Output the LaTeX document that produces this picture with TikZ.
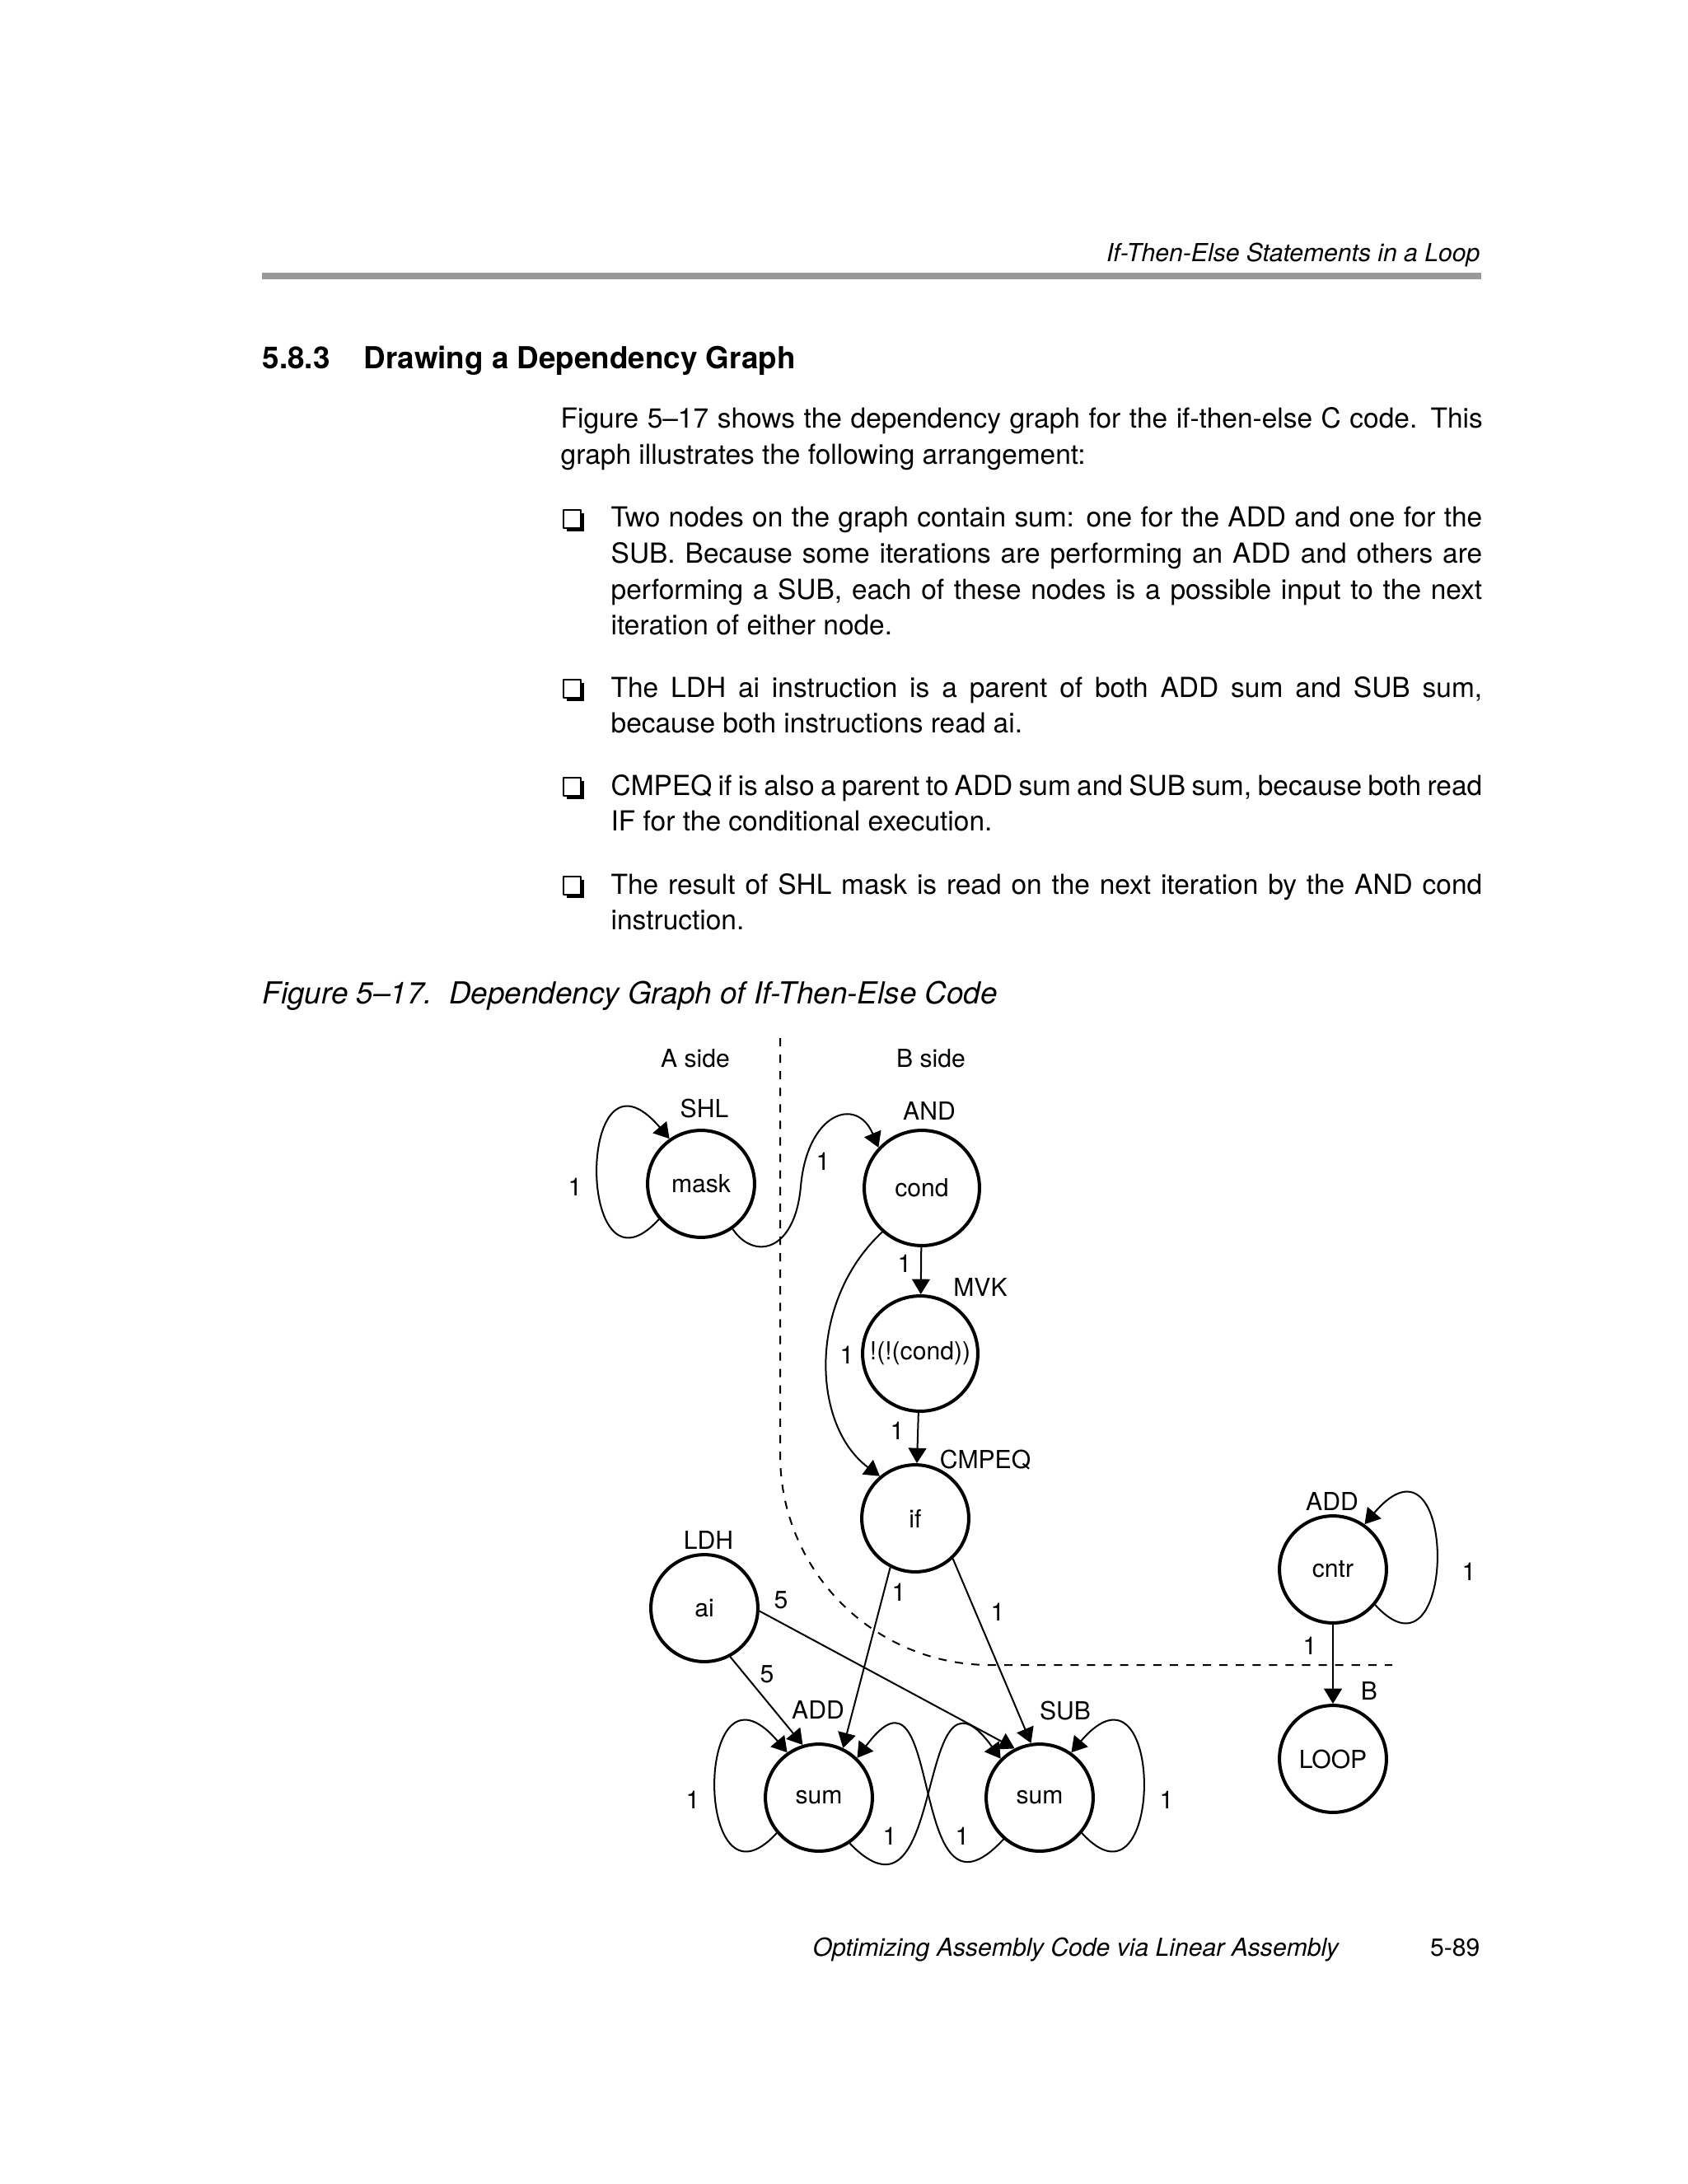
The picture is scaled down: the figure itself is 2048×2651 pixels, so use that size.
\documentclass[tikz,border=0pt]{standalone}
\usepackage{fontspec}
\setmainfont{TeX Gyre Heros}
\usetikzlibrary{arrows.meta}
\begin{document}
\begin{tikzpicture}[x=0.2988pt,y=-0.2988pt,line join=round,>={Triangle[length=5.5pt,width=6.5pt]}]
\tikzset{op/.style={circle,draw,line width=1.2pt,minimum size=38.8pt,inner sep=0pt,font=\fontsize{9}{10}\selectfont},
  bigop/.style={op,minimum size=41.8pt},
  tag/.style={inner sep=0pt,font=\fontsize{9}{10}\selectfont},
  dep/.style={->,line width=0.6pt},
  divider/.style={line width=0.6pt,dash pattern=on 3pt off 3pt},
  para/.style={anchor=base west,inner sep=0pt,align=justify,font=\fontsize{10}{13}\selectfont}}
\useasboundingbox (0,0) rectangle (2048,2651);
% page head
\node[anchor=base east,inner sep=0pt,font=\fontsize{9}{11}\selectfont\itshape] (head) at (1797,318) {If-Then-Else Statements in a Loop};
\draw[line width=2.4pt,black!40] (318,335)--(1798,335);
\node[anchor=base west,inner sep=0pt,font=\fontsize{11}{13}\selectfont\bfseries] (secno) at (318,448) {5.8.3};
\node[anchor=base west,inner sep=0pt,font=\fontsize{11}{13}\selectfont\bfseries] (sectitle) at (441,448) {Drawing a Dependency Graph};
% text
\node[para,text width=334.4pt] (intro) at (680,520) {Figure 5--17 shows the dependency graph for the if-then-else C code. This\linebreak graph illustrates the following arrangement:};
\node[para,text width=316pt] (item1) at (741,640) {Two nodes on the graph contain sum: one for the ADD and one for the\linebreak SUB. Because some iterations are performing an ADD and others are\linebreak performing a SUB, each of these nodes is a possible input to the next\linebreak iteration of either node.};
\node[para,text width=316pt] (item2) at (741,846) {The LDH ai instruction is a parent of both ADD sum and SUB sum,\linebreak because both instructions read ai.};
\node[para,text width=316pt] (item3) at (741,965) {CMPEQ if is also a parent to ADD sum and SUB sum, because both read\linebreak IF for the conditional execution.};
\node[para,text width=316pt] (item4) at (741,1085) {The result of SHL mask is read on the next iteration by the AND cond\linebreak instruction.};
\foreach \b in {640,846,965,1085}{
  \fill (688,\b-17) rectangle (709,\b+5);
  \draw[line width=0.6pt,fill=white] (684,\b-21) rectangle (705,\b+1);
}
\node[anchor=base west,inner sep=0pt,font=\fontsize{11}{13}\selectfont\itshape] (caption) at (318,1218) {Figure 5--17.\ \ Dependency Graph of If-Then-Else Code};
% graph
\node[tag] (aside) at (844,1285) {A side};
\node[tag] (bside) at (1130,1285) {B side};
\draw[divider] (947,1260)--(947,1766) .. controls (947,1907) and (1061,2021) .. (1202,2021)--(1690,2021);
\node[op] (mask) at (851,1437) {mask};
\node[bigop] (cond) at (1119,1442) {cond};
\node[bigop] (ncond) at (1117,1643) {!(!(cond))};
\node[op] (ifn) at (1111,1843) {if};
\node[op] (ai) at (855,1952) {ai};
\node[op] (addsum) at (994,2182) {sum};
\node[op] (subsum) at (1262,2182) {sum};
\node[op] (cntr) at (1618,1905) {cntr};
\node[op] (loop) at (1618,2135) {LOOP};
\node[tag] at (855,1346) {SHL};
\node[tag] at (1128,1349) {AND};
\node[tag] at (1190,1563) {MVK};
\node[tag] at (1196,1772) {CMPEQ};
\node[tag] at (860,1870) {LDH};
\node[tag] at (993,2075) {ADD};
\node[tag] at (1293,2076) {SUB};
\node[tag] at (1617,1822) {ADD};
\node[tag] at (1662,2052) {B};
\draw[dep] (mask.220) .. controls +(-101,111) and +(-114,-134) .. (mask.125);
\draw[dep] (mask.305) .. controls (915,1530) and (965,1520) .. (972,1440) .. controls (980,1350) and (1040,1330) .. (cond.137);
\draw[dep] (cond)--(ncond);
\draw[dep] (cond.228) .. controls (980,1580) and (985,1730) .. (ifn.130);
\draw[dep] (ncond)--(ifn);
\draw[dep] (ifn.243)--(addsum.64);
\draw[dep] (ifn.313)--(subsum.99);
\draw[dep] (ai.298)--(addsum.107);
\draw[dep] (ai.357)--(subsum.117);
\draw[dep] (addsum.220) .. controls +(-101,111) and +(-114,-134) .. (addsum.125);
\draw[dep] (addsum.304) .. controls +(120,124) and +(-106,-146) .. (subsum.135);
\draw[dep] (subsum.229) .. controls +(-119,129) and +(107,-145) .. (addsum.46);
\draw[dep] (subsum.320) .. controls +(101,111) and +(114,-134) .. (subsum.55);
\draw[dep] (cntr.320) .. controls +(101,111) and +(114,-134) .. (cntr.55);
\draw[dep] (cntr)--(loop);
% latencies
\node[tag] at (698,1441) {1};
\node[tag] at (999,1410) {1};
\node[tag] at (1098,1534) {1};
\node[tag] at (1028,1645) {1};
\node[tag] at (1089,1737) {1};
\node[tag] at (1091,1933) {1};
\node[tag] at (1211,1957) {1};
\node[tag] at (948,1942) {5};
\node[tag] at (931,2032) {5};
\node[tag] at (841,2185) {1};
\node[tag] at (1080,2229) {1};
\node[tag] at (1168,2229) {1};
\node[tag] at (1416,2185) {1};
\node[tag] at (1783,1908) {1};
\node[tag] at (1590,1998) {1};
% page foot
\node[anchor=base west,inner sep=0pt,font=\fontsize{9}{11}\selectfont\itshape] (foot) at (986,2374) {Optimizing Assembly Code via Linear Assembly};
\node[anchor=base east,inner sep=0pt,font=\fontsize{9}{11}\selectfont] (pageno) at (1797,2374) {5-89};
\end{tikzpicture}
\end{document}
